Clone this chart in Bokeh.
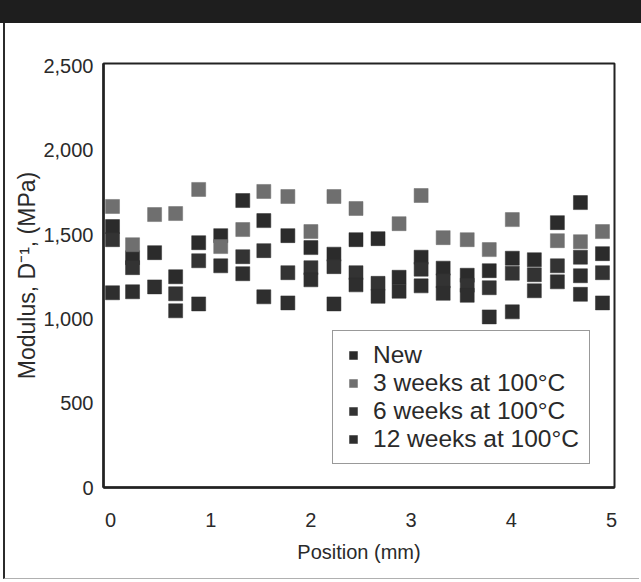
from bokeh.plotting import figure
from bokeh.models import Div, Legend, LegendItem, NumeralTickFormatter
from bokeh.layouts import column
from bokeh.embed import file_html
from bokeh.resources import INLINE

# ---- data ----
pos_new = [0.02, 0.22, 0.44, 0.65, 0.88, 1.10, 1.32, 1.53, 1.77, 2.00, 2.23, 2.45,
           2.67, 2.88, 3.10, 3.32, 3.56, 3.78, 4.01, 4.23, 4.46, 4.69, 4.91]
mod_new = [1548, 1363, 1393, 1250, 1452, 1494, 1702, 1583, 1494, 1423, 1384, 1470,
           1476, 1247, 1366, 1301, 1259, 1286, 1360, 1351, 1571, 1690, 1387]

pos_3wk = [0.02, 0.22, 0.44, 0.65, 0.88, 1.10, 1.32, 1.53, 1.77, 2.00, 2.23, 2.45,
           2.88, 3.10, 3.32, 3.56, 3.78, 4.01, 4.46, 4.69, 4.91]
mod_3wk = [1667, 1440, 1619, 1625, 1768, 1429, 1530, 1756, 1726, 1518, 1726, 1655,
           1565, 1732, 1482, 1470, 1411, 1589, 1464, 1458, 1518]

pos_6wk = [0.02, 0.22, 0.65, 0.88, 1.32, 1.53, 1.77, 2.00, 2.23, 2.45, 2.67, 3.10,
           3.32, 3.56, 3.78, 4.01, 4.23, 4.46, 4.69, 4.91]
mod_6wk = [1470, 1304, 1149, 1345, 1369, 1405, 1274, 1304, 1310, 1274, 1211, 1295,
           1226, 1200, 1185, 1271, 1262, 1315, 1366, 1274]

pos_12wk = [0.02, 0.22, 0.44, 0.65, 0.88, 1.10, 1.32, 1.53, 1.77, 2.00, 2.23, 2.45,
            2.67, 2.88, 3.10, 3.32, 3.56, 3.78, 4.01, 4.23, 4.46, 4.69, 4.69, 4.91]
mod_12wk = [1155, 1161, 1190, 1048, 1089, 1315, 1268, 1131, 1095, 1232, 1089, 1202,
            1134, 1164, 1196, 1152, 1140, 1012, 1042, 1167, 1220, 1256, 1146, 1095]

series_names = ["New", "3 weeks at 100°C", "6 weeks at 100°C", "12 weeks at 100°C"]
series_colors = ["#2b2b2b", "#6f6f6f", "#333333", "#2e2e2e"]

x_ticks = [0, 1, 2, 3, 4, 5]
y_ticks = [0, 500, 1000, 1500, 2000, 2500]

FONT = "Liberation Sans"
TXT = "#2a2a2a"

bar = Div(width=641, height=23, margin=0, styles={"background-color": "#1e1e1e"})

p = figure(width=636, height=556, x_range=(-0.07, 5.03), y_range=(0, 2515),
           output_backend="svg", toolbar_location=None, margin=0,
           min_border_left=98, min_border_right=27, min_border_top=40, min_border_bottom=92)
p.styles = {"margin-left": "3px", "border-left": "2px solid #2b2b2b",
            "border-bottom": "1px solid #b0b0b0"}

p.grid.visible = False
p.background_fill_color = "white"
p.border_fill_color = "white"
p.outline_line_color = "#222222"
p.outline_line_width = 2

for ax in (p.xaxis[0], p.yaxis[0]):
    ax.axis_line_color = "#222222"
    ax.axis_line_width = 2.5
    ax.major_tick_line_color = None
    ax.minor_tick_line_color = None
    ax.major_label_text_font = FONT
    ax.major_label_text_font_size = "20px"
    ax.major_label_text_color = TXT
    ax.axis_label_text_font = FONT
    ax.axis_label_text_font_size = "20px"
    ax.axis_label_text_font_style = "normal"
    ax.axis_label_text_color = TXT

p.xaxis.ticker = x_ticks
p.yaxis.ticker = y_ticks
p.yaxis.formatter = NumeralTickFormatter(format="0,0")
p.xaxis.axis_label = "Position (mm)"
p.yaxis.axis_label = "Modulus, D⁻¹, (MPa)"
p.yaxis.axis_label_text_font_size = "23px"
p.xaxis.major_label_standoff = 19
p.yaxis.major_label_standoff = 4
p.xaxis.axis_label_standoff = 11
p.yaxis.axis_label_standoff = 0

data = [(pos_new, mod_new), (pos_3wk, mod_3wk), (pos_6wk, mod_6wk), (pos_12wk, mod_12wk)]
items = []
for (xs, ys), name, col in zip(data, series_names, series_colors):
    r = p.scatter(xs, ys, marker="square", size=14, fill_color=col, line_color=col, line_width=0.5)
    items.append(LegendItem(label=name, renderers=[r]))

legend = Legend(items=items, location=(229, 23))
legend.label_text_font = FONT
legend.label_text_font_size = "24.5px"
legend.label_text_color = TXT
legend.label_height = 22
legend.glyph_height = 24
legend.glyph_width = 20
legend.label_standoff = 10
legend.spacing = -4
legend.padding = 10
legend.margin = 0
legend.border_line_color = "#333333"
legend.border_line_width = 1.5
legend.background_fill_alpha = 1
p.add_layout(legend, "center")

layout = column(bar, p, spacing=0)
open("out.html", "w").write(file_html(layout, INLINE))
